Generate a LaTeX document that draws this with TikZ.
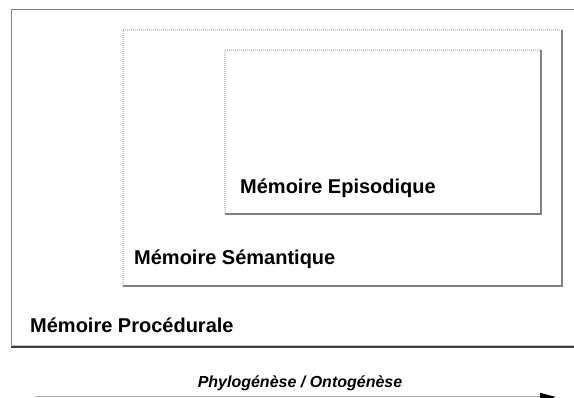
\documentclass[tikz,border=0pt]{standalone}
\usepackage{fontspec}
\setmainfont{Liberation Sans}
\usetikzlibrary{arrows.meta}
\definecolor{edgegray}{HTML}{808080}
\definecolor{dotgray}{HTML}{C8C8C8}
\definecolor{shadegray}{HTML}{808080}
\definecolor{linegray}{HTML}{B0B0B0}
\begin{document}
\begin{tikzpicture}[x=1pt,y=-1pt,
  region/.style={inner sep=0pt, outer sep=0pt},
  lightedge/.style={dotgray, line width=1.6pt, dash pattern=on 1pt off 1pt},
  darkedge/.style={shadegray, line width=1.8pt},
  label/.style={font=\fontsize{20}{22}\selectfont\bfseries, anchor=base west, inner sep=0pt},
  axislabel/.style={font=\fontsize{16}{18}\selectfont\bfseries\itshape, anchor=base, inner sep=0pt}]
  \useasboundingbox (0,0) rectangle (574,398);

  % nested memory regions
  \node[region, minimum width=570pt, minimum height=337pt, anchor=north west] (proc) at (11,10) {};
  \node[region, minimum width=439pt, minimum height=256pt, anchor=north west] (sem) at (123,30) {};
  \node[region, minimum width=316pt, minimum height=164pt, anchor=north west] (epi) at (225,50) {};

  % procedural memory: plain frame with a shaded lower edge
  \draw[edgegray, line width=1pt] (proc.south west) -- (proc.north west) -- (proc.north east);
  \draw[black!75, line width=1.2pt] (proc.south west) -- (proc.south east);
  \draw[black!25, line width=1pt] ([yshift=1.5pt]proc.south west) -- ([yshift=1.5pt]proc.south east);

  % semantic and episodic memory: dotted frames, darker on the shadow side
  \foreach \b in {sem,epi}{
    \draw[lightedge] (\b.south west) -- (\b.north west) -- (\b.north east);
    \draw[darkedge, line join=miter] (\b.north east) -- (\b.south east) -- (\b.south west);
  }

  \node[label] (tepi) at (240,194) {Mémoire Episodique};
  \node[label] (tsem) at (134,265) {Mémoire Sémantique};
  \node[label] (tproc) at (30,333) {Mémoire Procédurale};

  % evolution axis
  \node[axislabel] (taxis) at (300,388) {Phylogénèse / Ontogénèse};
  \coordinate (axstart) at (35,397);
  \coordinate (axend) at (556,397);
  \draw[linegray, line width=1pt, -{Triangle[black, length=16pt, width=8pt]}] (axstart) -- (axend);
\end{tikzpicture}
\end{document}
